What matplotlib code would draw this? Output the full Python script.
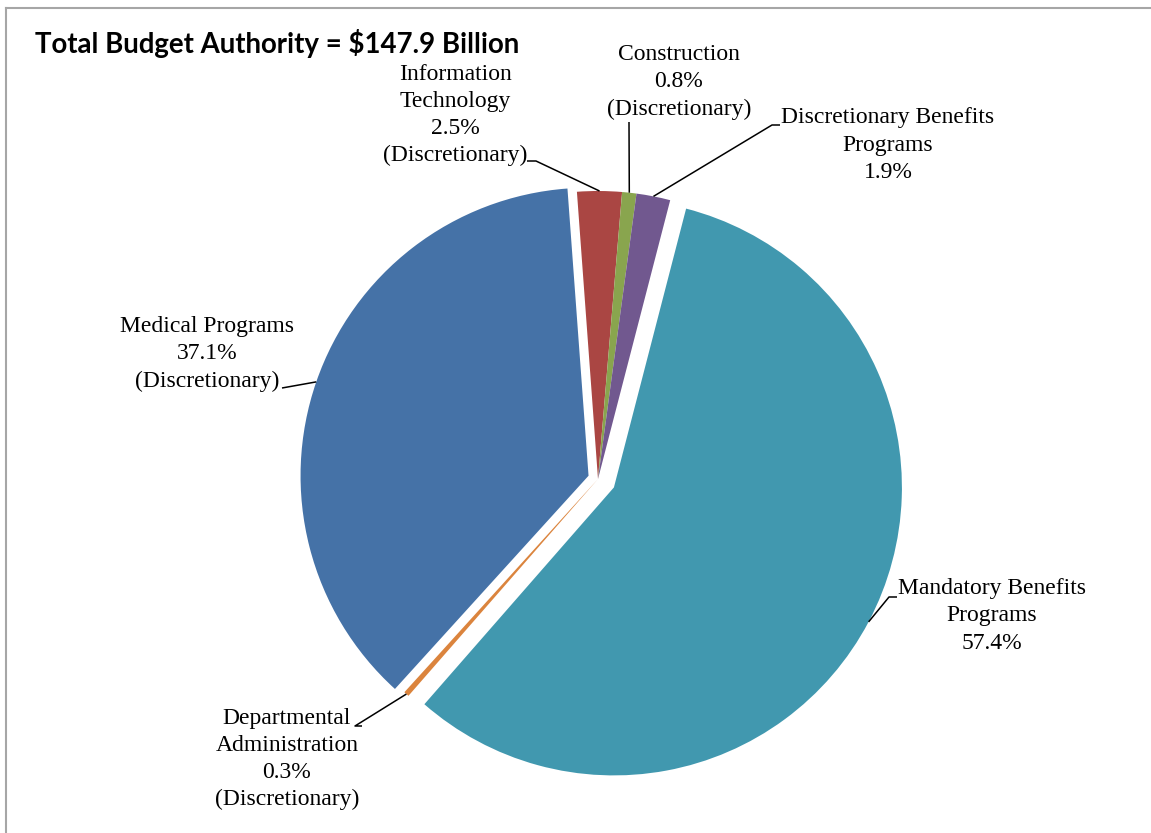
import numpy as np
import matplotlib
matplotlib.use('Agg')
import matplotlib.pyplot as plt
from matplotlib.lines import Line2D

W, H = 1151, 833

# 数据 (clockwise from the top)
labels = ['Information\nTechnology', 'Construction', 'Discretionary Benefits\nPrograms',
          'Mandatory Benefits\nPrograms', 'Departmental\nAdministration', 'Medical Programs']
shares = [2.5, 0.8, 1.9, 57.4, 0.3, 37.1]
kinds = ['(Discretionary)', '(Discretionary)', '', '', '(Discretionary)', '(Discretionary)']
colors = ['#AA4643', '#89A54E', '#71588F', '#4198AF', '#DB843D', '#4572A7']
explode = [0, 0, 0, 18, 0, 10]   # pixels (pie explode is in data units here)
title = 'Total Budget Authority = $147.9 Billion'

# label layout in pixel coords: (x, y of block centre, leader polyline on the text side)
label_pos = [
    (455, 115, [(527, 161), (536, 161)]),
    (679, 82, [(629, 122)]),
    (888, 145, [(780, 125), (772, 125)]),
    (992, 616, [(897, 597), (889, 597)]),
    (287, 759, [(362, 726), (355, 726)]),
    (207, 354, [(282, 388)]),
]


def Y(y):
    # pixel y (from top) -> data y
    return H - y


fig = plt.figure(figsize=(W / 100, H / 100), dpi=100)
ax = fig.add_axes([0, 0, 1, 1])

cx, cy, r = 598, Y(479), 288
wedges, _ = ax.pie(shares, colors=colors, explode=explode, startangle=94.2,
                   counterclock=False, center=(cx, cy), radius=r,
                   wedgeprops=dict(linewidth=0), frame=True)
ax.set_xlim(0, W)
ax.set_ylim(0, H)
ax.set_aspect('equal')
ax.axis('off')

serif = ['Liberation Serif', 'DejaVu Serif']
for w, lab, val, kind, (lx, ly, tail) in zip(wedges, labels, shares, kinds, label_pos):
    txt = f'{lab}\n{val}%'
    if kind:
        txt += '\n' + kind
    ax.text(lx, Y(ly), txt, ha='center', va='center', fontsize=17,
            family=serif, linespacing=1.38, color='black')
    # leader from the wedge's outer arc at its mid angle
    mid = np.deg2rad((w.theta1 + w.theta2) / 2)
    wx, wy = w.center
    px = wx + w.r * np.cos(mid)
    py = wy + w.r * np.sin(mid)
    xs = [p[0] for p in tail] + [px]
    ys = [Y(p[1]) for p in tail] + [py]
    ax.plot(xs, ys, color='black', linewidth=1.1, solid_capstyle='butt')

ax.text(35, Y(43), title, ha='left', va='center', fontsize=19.9,
        fontweight='bold', family=['Lato', 'DejaVu Sans'], color='black')

# chart area border (only left and top visible)
fig.add_artist(Line2D([5.5 / W, 5.5 / W], [0, 1 - 8 / H], color='#a6a6a6', linewidth=1.5))
fig.add_artist(Line2D([5.5 / W, 1], [1 - 8 / H, 1 - 8 / H], color='#a6a6a6', linewidth=1.5))

fig.savefig('out.png', dpi=100, facecolor='white')
